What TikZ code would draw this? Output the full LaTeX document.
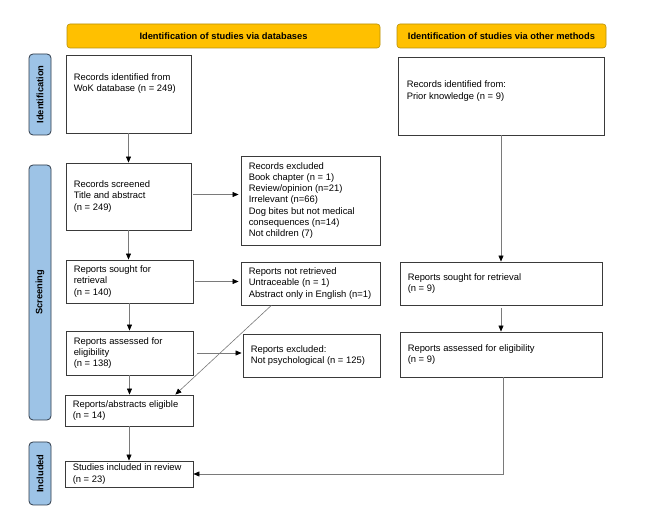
\documentclass[tikz,border=0pt]{standalone}
\usepackage{fontspec}
\setmainfont{Liberation Sans}
\usetikzlibrary{arrows.meta,calc}
\definecolor{hdr}{HTML}{FFC000}
\definecolor{hdrb}{HTML}{B8900A}
\definecolor{side}{HTML}{9DC3E6}
\definecolor{sideb}{HTML}{2F3B4A}
\definecolor{boxb}{HTML}{3A3A3A}
\definecolor{arr}{HTML}{7A7A7A}
\newcommand{\prbox}[5]{\node[box, minimum width={#4-#2}, minimum height={#5-#3}] (#1) at ({(#2+#4)/2},{(#3+#5)/2}) {};}
\begin{document}
\begin{tikzpicture}[x=1pt,y=-1pt, font=\fontsize{9.4}{11.3}\selectfont,
 box/.style={draw=boxb, line width=0.9pt, inner sep=0, fill=white},
 txt/.style={inner sep=0, align=left, anchor=west},
 hdrbox/.style={draw=hdrb, fill=hdr, rounded corners=3pt, line width=0.6pt, font=\fontsize{9.3}{11}\selectfont\bfseries, inner sep=0},
 sidebox/.style={draw=sideb, fill=side, rounded corners=4pt, line width=0.8pt, inner sep=0},
 sidetxt/.style={rotate=90, font=\fontsize{9.3}{11}\selectfont\bfseries, inner sep=0},
 arrow/.style={draw=arr, line width=0.6pt, -{Triangle[length=6pt,width=5pt,color=black]}}]
\useasboundingbox (0,0) rectangle (649,521);
\fill[white] (0,0) rectangle (649,521);

% headers
\node[hdrbox, minimum width=313, minimum height=24] (h1) at (223.5,36) {Identification of studies via databases};
\node[hdrbox, minimum width=209, minimum height=24] (h2) at (501.5,36) {Identification of studies via other methods};

% side bars
\node[sidebox, minimum width=22, minimum height=81] (sid) at (40,94.5) {};
\node[sidetxt] (sidt) at (sid.center) {Identification};
\node[sidebox, minimum width=22, minimum height=255] (ssc) at (40,292.5) {};
\node[sidetxt] (ssct) at (ssc.center) {Screening};
\node[sidebox, minimum width=22, minimum height=63] (sin) at (40,473.5) {};
\node[sidetxt] (sint) at (sin.center) {Included};

% boxes
\prbox{b1}{66}{55}{191}{133}
\node[txt] (b1t) at ([xshift=8pt,yshift=10.5pt]b1.west) {Records identified from\\WoK database (n = 249)};
\prbox{b2}{66}{163}{191}{230}
\node[txt] (b2t) at ([xshift=8pt]b2.west) {Records screened\\Title and abstract\\(n = 249)};
\prbox{ex1}{241}{156}{380}{245}
\node[txt] (ex1t) at ([xshift=8pt]ex1.west) {Records excluded\\Book chapter (n = 1)\\Review/opinion (n=21)\\Irrelevant (n=66)\\Dog bites but not medical\\consequences (n=14)\\Not children (7)};
\prbox{so}{66}{260}{193}{303}
\node[txt] (sot) at ([xshift=8pt]so.west) {Reports sought for\\retrieval\\(n = 140)};
\prbox{nr}{241}{262}{380}{305}
\node[txt] (nrt) at ([xshift=8pt]nr.west) {Reports not retrieved\\Untraceable (n = 1)\\Abstract only in English (n=1)};
\prbox{as}{66}{331}{193}{375}
\node[txt] (ast) at ([xshift=8pt]as.west) {Reports assessed for\\eligibility\\(n = 138)};
\prbox{ex2}{243}{334}{380}{377}
\node[txt] (ex2t) at ([xshift=8pt]ex2.west) {Reports excluded:\\Not psychological (n = 125)};
\prbox{el}{65}{395}{193}{426}
\node[txt] (elt) at ([xshift=8pt]el.west) {Reports/abstracts eligible\\(n = 14)};
\prbox{inc}{65}{461}{193}{487}
\node[txt] (inct) at ([xshift=8pt]inc.west) {Studies included in review\\(n = 23)};
\prbox{pr}{398}{57}{604}{135}
\node[txt] (prt) at ([xshift=9pt,yshift=5pt]pr.west) {Records identified from:\\Prior knowledge (n = 9)};
\prbox{so9}{400}{262}{602}{305}
\node[txt] (so9t) at ([xshift=8pt]so9.west) {Reports sought for retrieval\\(n = 9)};
\prbox{as9}{400}{332}{602}{377}
\node[txt] (as9t) at ([xshift=8pt]as9.west) {Reports assessed for eligibility\\(n = 9)};

% connectors
\draw[arrow] (b1.south) -- (b2.north);
\draw[arrow, shorten >=2pt] ([xshift=2pt,yshift=2pt]b2.east) -- ([yshift=2pt]b2.east -| ex1.west);
\draw[arrow] (b2.south) -- (b2.south |- so.north);
\draw[arrow, shorten >=2pt] ([xshift=2pt]so.east) -- (so.east -| nr.west);
\draw[arrow] (so.south) -- (so.south |- as.north);
\draw[arrow, shorten >=1pt] ([xshift=4pt]as.east) -- (as.east -| ex2.west);
\draw[arrow] (as.south) -- (as.south |- el.north);
\draw[arrow] ($(nr.south west)!0.22!(nr.south east)$) -- ($(el.north west)!0.86!(el.north east)$);
\draw[arrow] (el.south) -- (el.south |- inc.north);
\draw[arrow] (pr.south) -- (pr.south |- so9.north);
\draw[arrow] ([yshift=-3pt]so9.south) -- (so9.south |- as9.north);
\draw[arrow] ([xshift=2pt]as9.south) |- (inc.east);
\end{tikzpicture}
\end{document}
